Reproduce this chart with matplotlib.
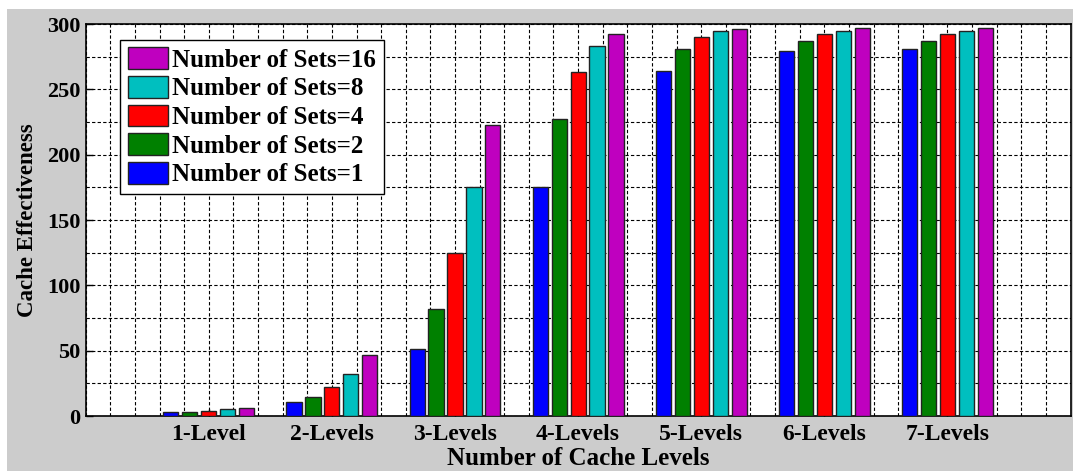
import matplotlib
matplotlib.use("Agg")
import matplotlib.pyplot as plt
import numpy as np
from matplotlib.patches import Rectangle
from matplotlib.ticker import MultipleLocator

# Data
levels = ["1-Level", "2-Levels", "3-Levels", "4-Levels", "5-Levels", "6-Levels", "7-Levels"]
sets_1 = [3, 10.5, 51, 175, 264, 279.5, 281]
sets_2 = [3, 14.5, 82, 227, 281, 287, 287]
sets_4 = [4, 22, 125, 263, 290, 292, 292]
sets_8 = [5, 32, 175, 283, 294.5, 295, 295]
sets_16 = [6, 47, 223, 292, 296.5, 297, 297]

series = [sets_1, sets_2, sets_4, sets_8, sets_16]
labels = ["Number of Sets=1", "Number of Sets=2", "Number of Sets=4",
          "Number of Sets=8", "Number of Sets=16"]
colors = ["#0000ff", "#008000", "#ff0000", "#00bfbf", "#bf00bf"]

plt.rcParams["font.family"] = ["Liberation Serif", "DejaVu Serif"]
plt.rcParams["font.weight"] = "bold"

W, H = 1073, 473
fig = plt.figure(figsize=(W / 100, H / 100), dpi=100, facecolor="white")
# grey figure panel (as in the MATLAB export), leaving a thin white margin
fig.patches.append(Rectangle((7 / W, 2 / H), 1 - 7 / W, (471 - 2 - 7) / H + 0.0,
                             transform=fig.transFigure, facecolor="#cccccc",
                             edgecolor="none", zorder=-10))

ax = fig.add_axes([85.7 / W, (H - 416) / H, (1070.5 - 85.7) / W, (416 - 24) / H])
ax.set_facecolor("white")

x = np.arange(1, len(levels) + 1)
n = len(series)
slot = 0.77 / n
width = slot * 0.8
handles = []
for i, (vals, lab, col) in enumerate(zip(series, labels, colors)):
    offs = (i - (n - 1) / 2) * slot
    b = ax.bar(x + offs, vals, width, color=col, edgecolor="#222222",
               linewidth=1.0, label=lab, zorder=3)
    handles.append(b)

ax.set_xlim(0, 8)
ax.set_ylim(0, 300)
ax.set_xticks(x)
ax.set_xticklabels(levels, fontsize=17, fontweight="bold")
ax.xaxis.set_minor_locator(MultipleLocator(0.2))
ax.yaxis.set_major_locator(MultipleLocator(50))
ax.yaxis.set_minor_locator(MultipleLocator(25))
for lab in ax.get_yticklabels():
    lab.set_fontsize(16)
    lab.set_fontweight("bold")

ax.tick_params(axis="both", which="major", direction="in", length=5, width=1)
ax.tick_params(axis="both", which="minor", length=0)
ax.tick_params(axis="x", which="major", pad=6)
ax.tick_params(axis="y", which="major", pad=4)

ax.grid(True, which="both", linestyle=(0, (3, 2)), color="black",
        linewidth=0.8, zorder=0)
ax.set_axisbelow(True)
for sp in ax.spines.values():
    sp.set_linewidth(1.2)
    sp.set_color("black")

ax.set_xlabel("Number of Cache Levels", fontsize=18, fontweight="bold", labelpad=1)
ax.set_ylabel("Cache Effectiveness", fontsize=16.5, fontweight="bold", labelpad=6)

leg = ax.legend(handles[::-1], labels[::-1], loc="upper left",
                bbox_to_anchor=((120 - 85.7) / (1070.5 - 85.7), (416 - 40) / 392),
                borderaxespad=0, fancybox=False, framealpha=1, edgecolor="black",
                prop={"size": 18, "weight": "bold"}, handlelength=1.6,
                handleheight=0.95, handletextpad=0.2, labelspacing=0.17,
                borderpad=0.3)
leg.get_frame().set_linewidth(1.0)

fig.savefig("out.png", dpi=100, facecolor=fig.get_facecolor())
